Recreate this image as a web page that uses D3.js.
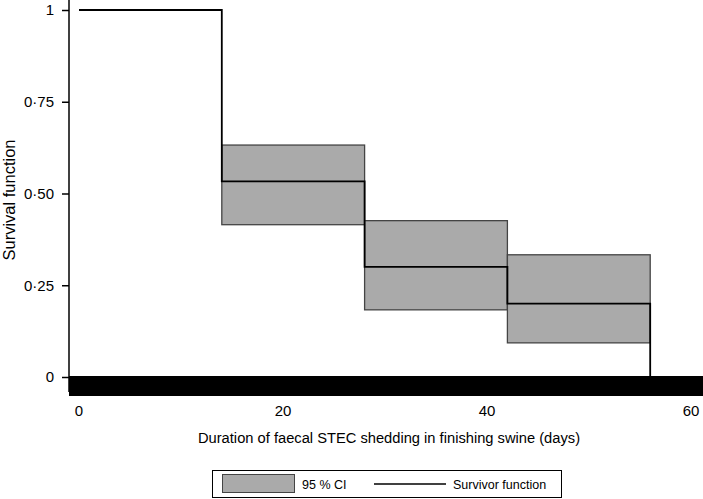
<!DOCTYPE html>
<html>
<head>
<meta charset="utf-8">
<script src="https://cdn.jsdelivr.net/npm/d3@7"></script>
<style>
  body { margin: 0; background: #fff; }
  svg { display: block; font-family: "Liberation Sans", Arial, sans-serif; }
</style>
</head>
<body>
<div id="chart"></div>
<script>
// Kaplan-Meier steps: start day, end day, survival, 95% CI
const stepStart = [0, 14, 28, 42];
const stepEnd = [14, 28, 42, 56];
const survival = [1, 0.533, 0.3, 0.2];
const ciLower = [null, 0.415, 0.183, 0.093];
const ciUpper = [null, 0.632, 0.426, 0.333];
const xTicks = [0, 20, 40, 60];
const yTicks = [0, 0.25, 0.5, 0.75, 1];
const yTickLabels = ["0", "0\u00b725", "0\u00b750", "0\u00b775", "1"];

const W = 703, H = 499;
const svg = d3.select("#chart").append("svg")
  .attr("width", W).attr("height", H);

const x = d3.scaleLinear().domain([0, 60]).range([79, 691]);
const y = d3.scaleLinear().domain([0, 1]).range([377, 10]);

// confidence bands
const bands = stepStart.map((s, i) => ({ s: s, e: stepEnd[i], lo: ciLower[i], hi: ciUpper[i] }))
  .filter(d => d.lo !== null);
svg.selectAll("rect.ci")
  .data(bands)
  .enter().append("rect")
  .attr("class", "ci")
  .attr("x", d => x(d.s))
  .attr("y", d => y(d.hi))
  .attr("width", d => x(d.e) - x(d.s))
  .attr("height", d => y(d.lo) - y(d.hi))
  .attr("fill", "#aaaaaa")
  .attr("stroke", "#444")
  .attr("stroke-width", 1.3);

// survivor step line
const pts = [];
stepStart.forEach((s, i) => {
  pts.push([s, survival[i]]);
  pts.push([stepEnd[i], survival[i]]);
});
pts.push([stepEnd[stepEnd.length - 1], 0]);
svg.append("path")
  .datum(pts)
  .attr("fill", "none")
  .attr("stroke", "#000")
  .attr("stroke-width", 1.8)
  .attr("d", d3.line().x(d => x(d[0])).y(d => y(d[1])));

// y axis
const yAxis = svg.append("g")
  .attr("transform", "translate(69,0)")
  .call(d3.axisLeft(y).tickValues(yTicks).tickFormat((d, i) => yTickLabels[i]).tickSize(7).tickPadding(8));
yAxis.select(".domain").attr("d", "M0,0V392").attr("stroke-width", 1.5);
yAxis.selectAll(".tick line").attr("stroke-width", 1.5);
yAxis.selectAll("text").attr("font-size", 15).attr("font-family", "Liberation Sans, Arial, sans-serif").attr("fill", "#000");

// thick baseline band along the time axis
svg.append("rect")
  .attr("x", 69)
  .attr("y", 376)
  .attr("width", W - 69)
  .attr("height", 20)
  .attr("fill", "#000");

// x tick labels
svg.selectAll("text.xt")
  .data(xTicks)
  .enter().append("text")
  .attr("class", "xt")
  .attr("x", d => x(d))
  .attr("y", 416)
  .attr("text-anchor", "middle")
  .attr("font-size", 15)
  .text(d => d);

// axis titles
svg.append("text")
  .attr("x", 389)
  .attr("y", 443)
  .attr("text-anchor", "middle")
  .attr("font-size", 14.7)
  .text("Duration of faecal STEC shedding in finishing swine (days)");

svg.append("text")
  .attr("transform", "translate(15,200) rotate(-90)")
  .attr("text-anchor", "middle")
  .attr("font-size", 16.5)
  .text("Survival function");

// legend
const lg = svg.append("g");
lg.append("rect")
  .attr("x", 212.5).attr("y", 470.5)
  .attr("width", 349).attr("height", 27)
  .attr("fill", "#fff").attr("stroke", "#000");
lg.append("rect")
  .attr("x", 222.5).attr("y", 474.5)
  .attr("width", 72).attr("height", 18)
  .attr("fill", "#aaaaaa").attr("stroke", "#444");
lg.append("text")
  .attr("x", 302).attr("y", 489)
  .attr("font-size", 12.5)
  .text("95 % CI");
lg.append("line")
  .attr("x1", 374).attr("x2", 446)
  .attr("y1", 484).attr("y2", 484)
  .attr("stroke", "#000").attr("stroke-width", 1.5);
lg.append("text")
  .attr("x", 453).attr("y", 489)
  .attr("font-size", 12.5)
  .text("Survivor function");
</script>
</body>
</html>
